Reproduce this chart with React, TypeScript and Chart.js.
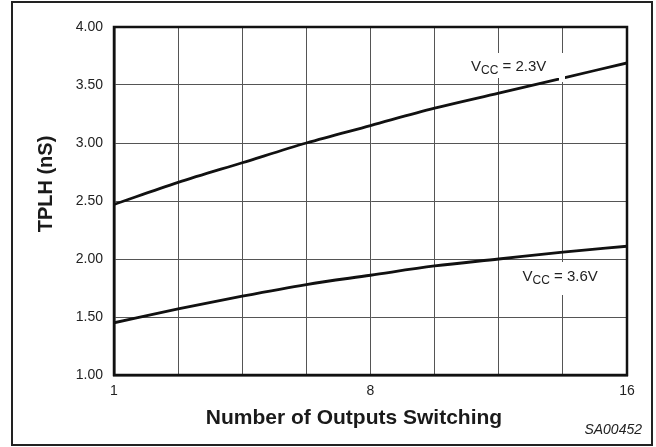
import React, { useEffect, useRef } from "react";
import { Chart, registerables } from "chart.js";

Chart.register(...registerables);

// x positions on the axis (grid every 2 outputs; first position is labelled "1")
const xPositions = [0, 2, 4, 6, 8, 10, 12, 14, 16];
const xTickLabels: Record<number, string> = { 0: "1", 8: "8", 16: "16" };
const yTicks = [1.0, 1.5, 2.0, 2.5, 3.0, 3.5, 4.0];

const vcc23 = [2.47, 2.66, 2.83, 3.0, 3.15, 3.3, 3.43, 3.56, 3.69];
const vcc36 = [1.45, 1.57, 1.68, 1.78, 1.86, 1.94, 2.0, 2.06, 2.11];

const xTitle = "Number of Outputs Switching";
const yTitle = "TPLH (nS)";
const figId = "SA00452";
const label23 = { main: "V", sub: "CC", rest: " = 2.3V" };
const label36 = { main: "V", sub: "CC", rest: " = 3.6V" };

const FONT = "'Liberation Sans', Arial, Helvetica, sans-serif";

function drawLabel(ctx: CanvasRenderingContext2D, lab: { main: string; sub: string; rest: string }, x: number, baseline: number) {
  ctx.save();
  ctx.fillStyle = "#222";
  ctx.textBaseline = "alphabetic";
  ctx.textAlign = "left";
  ctx.font = `15px ${FONT}`;
  ctx.fillText(lab.main, x, baseline);
  let cx = x + ctx.measureText(lab.main).width;
  ctx.font = `12px ${FONT}`;
  ctx.fillText(lab.sub, cx, baseline + 3);
  cx += ctx.measureText(lab.sub).width;
  ctx.font = `15px ${FONT}`;
  ctx.fillText(lab.rest, cx, baseline);
  ctx.restore();
}

const decorPlugin = {
  id: "decor",
  afterDatasetsDraw(chart: any) {
    const { ctx, chartArea } = chart;
    const { left, right, top, bottom } = chartArea;
    ctx.save();
    // label backgrounds
    ctx.fillStyle = "#fff";
    ctx.fillRect(466, 53, 99, 25);
    ctx.fillRect(559, 70, 6, 12);
    ctx.fillRect(516, 262, 90, 33);
    // plot frame
    ctx.strokeStyle = "#111";
    ctx.lineWidth = 2.5;
    ctx.strokeRect(left, top, right - left, bottom - top);
    // outer border
    ctx.lineWidth = 2;
    ctx.strokeStyle = "#222";
    ctx.strokeRect(12, 2, 640, 443);
    // series labels
    drawLabel(ctx, label23, 471, 70.5);
    drawLabel(ctx, label36, 522.5, 280.7);
    // axis titles
    ctx.fillStyle = "#1a1a1a";
    ctx.font = `bold 21px ${FONT}`;
    ctx.textAlign = "center";
    ctx.textBaseline = "middle";
    ctx.fillText(xTitle, 354, 418);
    ctx.save();
    ctx.translate(46, 184);
    ctx.rotate(-Math.PI / 2);
    ctx.font = `bold 20px ${FONT}`;
    ctx.fillText(yTitle, 0, 0);
    ctx.restore();
    // figure id
    ctx.font = `italic 14px ${FONT}`;
    ctx.textAlign = "right";
    ctx.fillStyle = "#222";
    ctx.fillText(figId, 642, 430);
    ctx.restore();
  },
};

export default function App() {
  const ref = useRef<HTMLCanvasElement | null>(null);
  useEffect(() => {
    if (!ref.current) return;
    const chart = new Chart(ref.current, {
      type: "line",
      data: {
        datasets: [
          {
            label: "VCC = 2.3V",
            data: xPositions.map((x, i) => ({ x, y: vcc23[i] })),
            borderColor: "#111",
            borderWidth: 2.8,
            pointRadius: 0,
            cubicInterpolationMode: "monotone",
          },
          {
            label: "VCC = 3.6V",
            data: xPositions.map((x, i) => ({ x, y: vcc36[i] })),
            borderColor: "#111",
            borderWidth: 2.8,
            pointRadius: 0,
            cubicInterpolationMode: "monotone",
          },
        ],
      },
      options: {
        animation: false,
        responsive: false,
        layout: { padding: { left: 0, top: 27, right: 29, bottom: 0 } },
        plugins: { legend: { display: false }, tooltip: { enabled: false } },
        scales: {
          x: {
            type: "linear",
            min: 0,
            max: 16,
            afterFit: (s: any) => {
              s.height = 72;
            },
            afterBuildTicks: (s: any) => {
              s.ticks = xPositions.map((v) => ({ value: v }));
            },
            ticks: {
              padding: 8,
              autoSkip: false,
              maxRotation: 0,
              color: "#222",
              font: { family: FONT, size: 14 },
              callback: (v: any) => xTickLabels[v as number] ?? "",
            },
            grid: { color: "#555", lineWidth: 1, drawTicks: false },
            border: { display: true, color: "#111", width: 2.5 },
          },
          y: {
            type: "linear",
            min: 1,
            max: 4,
            afterFit: (s: any) => {
              s.width = 114;
            },
            afterBuildTicks: (s: any) => {
              s.ticks = yTicks.map((v) => ({ value: v }));
            },
            ticks: {
              padding: 11,
              color: "#222",
              font: { family: FONT, size: 14 },
              callback: (v: any) => Number(v).toFixed(2),
            },
            grid: { color: "#555", lineWidth: 1, drawTicks: false },
            border: { display: true, color: "#111", width: 2.5 },
          },
        },
      },
      plugins: [decorPlugin],
    });
    return () => chart.destroy();
  }, []);
  return (
    <div style={{ position: "absolute", left: 0, top: 0, width: 656, height: 447, background: "#fff" }}>
      <canvas ref={ref} width={656} height={447} />
    </div>
  );
}
